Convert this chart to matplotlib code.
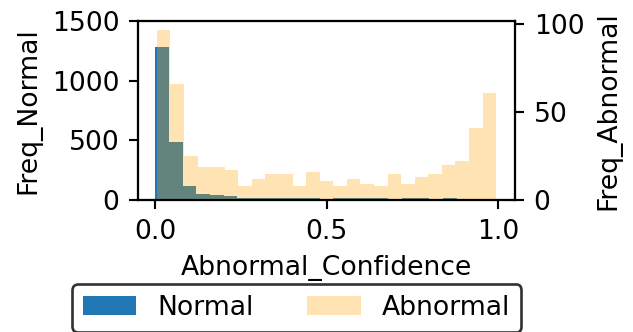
import numpy as np
import matplotlib
matplotlib.use("Agg")
import matplotlib.pyplot as plt

# Histogram bin ranges
normal_range = (0.0, 1.0)
abnormal_range = (0.005, 0.995)
n_bins = 25

normal_counts = [1280, 490, 115, 52, 38, 33, 20, 18, 18, 18, 18, 18, 8,
                 17, 17, 17, 17, 8, 17, 17, 8, 15, 3, 3, 3]
abnormal_counts = [97, 66, 25, 19, 19, 17, 8, 12, 15, 15, 8, 16, 11,
                   8, 12, 9, 8, 15, 9, 13, 15, 20, 22, 41, 61]

x_ticks = [0.0, 0.5, 1.0]
left_ticks = [0, 500, 1000, 1500]
right_ticks = [0, 50, 100]

DPI = 192
fig = plt.figure(figsize=(633 / DPI, 332 / DPI), dpi=DPI)
ax = fig.add_axes([138 / 633, 1 - 200 / 332, (515 - 138) / 633, (200 - 21) / 332])

edges_n = np.linspace(*normal_range, n_bins + 1)
edges_a = np.linspace(*abnormal_range, n_bins + 1)

ax.hist(edges_n[:-1], bins=edges_n, weights=normal_counts, color="#1f77b4", label="Normal")
ax.set_ylim(0, 1500)
ax.set_yticks(left_ticks)
ax.set_xticks(x_ticks)
ax.set_xlabel("Abnormal_Confidence")
ax.set_ylabel("Freq_Normal")

ax2 = ax.twinx()
ax2.hist(edges_a[:-1], bins=edges_a, weights=abnormal_counts, color="orange", alpha=0.3, label="Abnormal")
ax2.set_yticks(right_ticks)
ax2.set_ylabel("Freq_Abnormal")

h1, l1 = ax.get_legend_handles_labels()
h2, l2 = ax2.get_legend_handles_labels()
leg = fig.legend(h1 + h2, l1 + l2, loc="center", ncol=2,
                 bbox_to_anchor=(296.7 / 633, 1 - 308 / 332))
leg.get_frame().set_edgecolor("black")

fig.savefig("out.png", dpi=DPI)
